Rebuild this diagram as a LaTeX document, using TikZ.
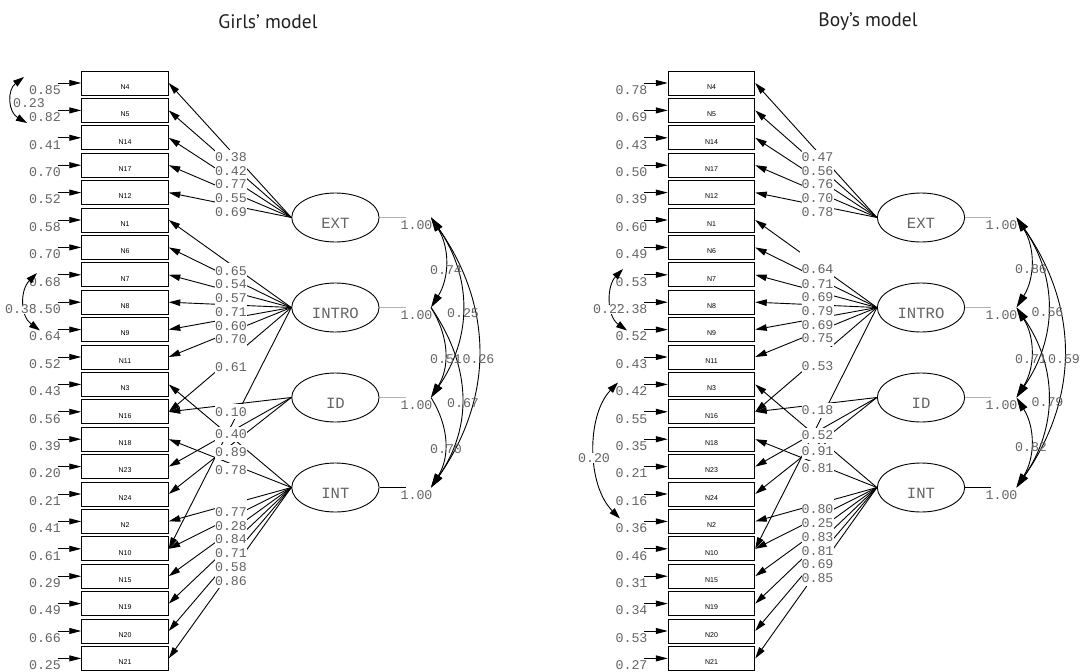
\documentclass[tikz,border=0pt]{standalone}
\usepackage{fontspec}
\newfontfamily\numfont{Liberation Mono}
\newfontfamily\boxfont{Liberation Sans}
\newfontfamily\headfont{PT Sans}
\usetikzlibrary{shapes.geometric,arrows.meta}
\definecolor{lisgray}{RGB}{100,100,100}
\definecolor{headink}{RGB}{35,31,32}
\begin{document}
\begin{tikzpicture}[x=1pt,y=-1pt,
    obs/.style={draw, line width=0.9pt, minimum width=86.6pt, minimum height=24pt, inner sep=0pt,
      font=\boxfont\fontsize{7}{7}\selectfont, text height=12.4pt, text depth=0pt},
    latent/.style={draw, ellipse, line width=0.9pt, minimum width=87.3pt, minimum height=49pt, inner sep=0pt,
      font=\numfont\fontsize{15.6}{15.6}\selectfont, text=lisgray, text height=22pt, text depth=0pt},
    num/.style={inner sep=0pt, font=\numfont\fontsize{13.3}{13.3}\selectfont, text=lisgray,
      text height=9.2pt, text depth=0pt},
    loadlab/.style={num, fill=white, minimum width=32pt, minimum height=15pt},
    covlab/.style={num, fill=white},
    load/.style={line width=0.9pt, -{Triangle[length=11.5pt,width=6.5pt]}},
    err/.style={line width=0.9pt, -{Triangle[length=12pt,width=6pt]}},
    errcov/.style={line width=0.9pt, {Triangle[length=11pt,width=7pt]}-{Triangle[length=11pt,width=7pt]}},
    cor/.style={line width=0.9pt, {Triangle[length=14pt,width=8pt]}-{Triangle[length=14pt,width=8pt]}},
    cortip/.style={line width=0.9pt, -{Triangle[length=14pt,width=8pt]}},
    var/.style={line width=0.9pt, gray!60},
    headline/.style={font=\headfont\fontsize{19.5}{19.5}\selectfont, text=headink}]
  \useasboundingbox (0,0) rectangle (1085,672);
  \node[headline] (gtitle) at (268,22) {Girls’ model};
  \node[headline] (btitle) at (868,22) {Boy’s model};

  % girls
  \begin{scope}
    \path
      (125,83) node[obs] (gN4){N4}
      (125,110.4) node[obs] (gN5){N5}
      (125,137.8) node[obs] (gN14){N14}
      (125,165.2) node[obs] (gN17){N17}
      (125,192.6) node[obs] (gN12){N12}
      (125,220) node[obs] (gN1){N1}
      (125,247.4) node[obs] (gN6){N6}
      (125,274.8) node[obs] (gN7){N7}
      (125,302.2) node[obs] (gN8){N8}
      (125,329.6) node[obs] (gN9){N9}
      (125,357) node[obs] (gN11){N11}
      (125,384.4) node[obs] (gN3){N3}
      (125,411.8) node[obs] (gN16){N16}
      (125,439.2) node[obs] (gN18){N18}
      (125,466.6) node[obs] (gN23){N23}
      (125,494) node[obs] (gN24){N24}
      (125,521.4) node[obs] (gN2){N2}
      (125,548.8) node[obs] (gN10){N10}
      (125,576.2) node[obs] (gN15){N15}
      (125,603.6) node[obs] (gN19){N19}
      (125,631) node[obs] (gN20){N20}
      (125,658.4) node[obs] (gN21){N21};
    \path
      (335.4,217.5) node[latent] (gEXT){EXT}
      (335.4,307.5) node[latent] (gINTRO){INTRO}
      (335.4,397.5) node[latent] (gID){ID}
      (335.4,487.5) node[latent] (gINT){INT};
    % error variances
    \begin{scope}[err]
      \draw ([xshift=-23.7pt]gN4.west) -- (gN4.west);
      \draw ([xshift=-23.7pt]gN5.west) -- (gN5.west);
      \draw ([xshift=-23.7pt]gN14.west) -- (gN14.west);
      \draw ([xshift=-23.7pt]gN17.west) -- (gN17.west);
      \draw ([xshift=-23.7pt]gN12.west) -- (gN12.west);
      \draw ([xshift=-23.7pt]gN1.west) -- (gN1.west);
      \draw ([xshift=-23.7pt]gN6.west) -- (gN6.west);
      \draw ([xshift=-23.7pt]gN7.west) -- (gN7.west);
      \draw ([xshift=-23.7pt]gN8.west) -- (gN8.west);
      \draw ([xshift=-23.7pt]gN9.west) -- (gN9.west);
      \draw ([xshift=-23.7pt]gN11.west) -- (gN11.west);
      \draw ([xshift=-23.7pt]gN3.west) -- (gN3.west);
      \draw ([xshift=-23.7pt]gN16.west) -- (gN16.west);
      \draw ([xshift=-23.7pt]gN18.west) -- (gN18.west);
      \draw ([xshift=-23.7pt]gN23.west) -- (gN23.west);
      \draw ([xshift=-23.7pt]gN24.west) -- (gN24.west);
      \draw ([xshift=-23.7pt]gN2.west) -- (gN2.west);
      \draw ([xshift=-23.7pt]gN10.west) -- (gN10.west);
      \draw ([xshift=-23.7pt]gN15.west) -- (gN15.west);
      \draw ([xshift=-23.7pt]gN19.west) -- (gN19.west);
      \draw ([xshift=-23.7pt]gN20.west) -- (gN20.west);
      \draw ([xshift=-23.7pt]gN21.west) -- (gN21.west);
    \end{scope}
    \path[every node/.style=num]
      (45,89.7) node (geN4){0.85}
      (45,117.1) node (geN5){0.82}
      (45,144.5) node (geN14){0.41}
      (45,171.9) node (geN17){0.70}
      (45,199.3) node (geN12){0.52}
      (45,226.7) node (geN1){0.58}
      (45,254.1) node (geN6){0.70}
      (45,281.5) node (geN7){0.68}
      (45,308.9) node (geN8){0.50}
      (45,336.3) node (geN9){0.64}
      (45,363.7) node (geN11){0.52}
      (45,391.1) node (geN3){0.43}
      (45,418.5) node (geN16){0.56}
      (45,445.9) node (geN18){0.39}
      (45,473.3) node (geN23){0.20}
      (45,500.7) node (geN24){0.21}
      (45,528.1) node (geN2){0.41}
      (45,555.5) node (geN10){0.61}
      (45,582.9) node (geN15){0.29}
      (45,610.3) node (geN19){0.49}
      (45,637.7) node (geN20){0.66}
      (45,665.1) node (geN21){0.25};
    % loadings
    \begin{scope}[load]
      \draw (gEXT.west) -- (gN4.east);
      \draw (gEXT.west) -- (gN5.east);
      \draw (gEXT.west) -- (gN14.east);
      \draw (gEXT.west) -- (gN17.east);
      \draw (gEXT.west) -- (gN12.east);
      \draw (gINTRO.west) -- (gN1.east);
      \draw (gINTRO.west) -- (gN6.east);
      \draw (gINTRO.west) -- (gN7.east);
      \draw (gINTRO.west) -- (gN8.east);
      \draw (gINTRO.west) -- (gN9.east);
      \draw (gINTRO.west) -- (gN11.east);
      \draw (gINTRO.west) -- (gN16.east);
      \draw (gINTRO.west) -- (gN10.east);
      \draw (gID.west) -- (gN16.east);
      \draw (gID.west) -- (gN23.east);
      \draw (gID.west) -- (gN24.east);
      \draw (gINT.west) -- (gN3.east);
      \draw (gINT.west) -- (gN18.east);
      \draw (gINT.west) -- (gN2.east);
      \draw (gINT.west) -- (gN10.east);
      \draw (gINT.west) -- (gN15.east);
      \draw (gINT.west) -- (gN19.east);
      \draw (gINT.west) -- (gN20.east);
      \draw (gINT.west) -- (gN21.east);
    \end{scope}
    \fill[white] (215,346.5) rectangle (247,359.5);
    \fill[white] (215,490) rectangle (247,504);
    \path[every node/.style=loadlab]
      (231,157) node (gw1){0.38}
      (231,170.7) node (gw2){0.42}
      (231,184.3) node (gw3){0.77}
      (231,198) node (gw4){0.55}
      (231,211.7) node (gw5){0.69}
      (231,270.7) node (gw6){0.65}
      (231,284.3) node (gw7){0.54}
      (231,298.3) node (gw8){0.57}
      (231,312.3) node (gw9){0.71}
      (231,326) node (gw10){0.60}
      (231,339.3) node (gw11){0.70}
      (231,366.7) node (gw12){0.61}
      (231,411.7) node (gw13){0.10}
      (231,434.3) node (gw14){0.40}
      (231,452) node (gw15){0.89}
      (231,470.3) node (gw16){0.78}
      (231,511.7) node (gw17){0.77}
      (231,525.7) node (gw18){0.28}
      (231,539.3) node (gw19){0.84}
      (231,552.7) node (gw20){0.71}
      (231,566.7) node (gw21){0.58}
      (231,580.7) node (gw22){0.86};
    % factor variances
    \draw[var] (gEXT.east) -- +(26,0);
    \draw[var] (gINTRO.east) -- +(26,0);
    \draw[var] (gID.east) -- +(26,0);
    \draw[line width=1pt] (gINT.east) -- +(26,0);
    \path[every node/.style=num]
      (416.5,224.5) node (gvEXT){1.00}
      (416.5,314.5) node (gvINTRO){1.00}
      (416.5,404.5) node (gvID){1.00}
      (416.5,494.5) node (gvINT){1.00};
    % factor correlations
    \coordinate (gcEXT) at (431,217.5);
    \coordinate (gcINTRO) at (431,307.5);
    \coordinate (gcID) at (431,397.5);
    \coordinate (gcINT) at (431,487.5);
    \draw[cor] (gcEXT) .. controls +(18.7,30) and +(18.7,-30) .. (gcINTRO);
    \draw[cor] (gcEXT) .. controls +(41.3,60) and +(41.3,-60) .. (gcID);
    \draw[cor] (gcEXT) .. controls +(62.7,90) and +(62.7,-90) .. (gcINT);
    \draw[cortip] (gcINTRO) .. controls +(18.7,30) and +(18.7,-30) .. (gcID);
    \draw[cortip] (gcINTRO) .. controls +(41.3,60) and +(41.3,-60) .. (gcINT);
    \draw[cortip] (gcID) .. controls +(18.7,30) and +(18.7,-30) .. (gcINT);
    \path[every node/.style=num]
      (446,270) node (gr1){0.74}
      (463,313.3) node (gr2){0.25}
      (478.5,359) node (gr3){0.26}
      (446,359) node (gr4){0.51}
      (463,403.3) node (gr5){0.67}
      (446,449.3) node (gr6){0.70};
    % error covariances
    \coordinate (gq1) at (24,77);
    \coordinate (gq2) at (27,123);
    \coordinate (gq3) at (37,273);
    \coordinate (gq4) at (40,330.5);
    \draw[errcov] (gq1) .. controls (7,90) and (8,112) .. (gq2);
    \draw[errcov] (gq3) .. controls (20,290) and (20,316) .. (gq4);
    \node[covlab] (gq12) at (29,103.3) {0.23};
    \node[covlab] (gq34) at (21,309.3) {0.38};
  \end{scope}

  % boys
  \begin{scope}[xshift=586.5pt]
    \path
      (125,83) node[obs] (bN4){N4}
      (125,110.4) node[obs] (bN5){N5}
      (125,137.8) node[obs] (bN14){N14}
      (125,165.2) node[obs] (bN17){N17}
      (125,192.6) node[obs] (bN12){N12}
      (125,220) node[obs] (bN1){N1}
      (125,247.4) node[obs] (bN6){N6}
      (125,274.8) node[obs] (bN7){N7}
      (125,302.2) node[obs] (bN8){N8}
      (125,329.6) node[obs] (bN9){N9}
      (125,357) node[obs] (bN11){N11}
      (125,384.4) node[obs] (bN3){N3}
      (125,411.8) node[obs] (bN16){N16}
      (125,439.2) node[obs] (bN18){N18}
      (125,466.6) node[obs] (bN23){N23}
      (125,494) node[obs] (bN24){N24}
      (125,521.4) node[obs] (bN2){N2}
      (125,548.8) node[obs] (bN10){N10}
      (125,576.2) node[obs] (bN15){N15}
      (125,603.6) node[obs] (bN19){N19}
      (125,631) node[obs] (bN20){N20}
      (125,658.4) node[obs] (bN21){N21};
    \path
      (334.5,217.5) node[latent] (bEXT){EXT}
      (334.5,307.5) node[latent] (bINTRO){INTRO}
      (334.5,397.5) node[latent] (bID){ID}
      (334.5,487.5) node[latent] (bINT){INT};
    % error variances
    \begin{scope}[err]
      \draw ([xshift=-23.7pt]bN4.west) -- (bN4.west);
      \draw ([xshift=-23.7pt]bN5.west) -- (bN5.west);
      \draw ([xshift=-23.7pt]bN14.west) -- (bN14.west);
      \draw ([xshift=-23.7pt]bN17.west) -- (bN17.west);
      \draw ([xshift=-23.7pt]bN12.west) -- (bN12.west);
      \draw ([xshift=-23.7pt]bN1.west) -- (bN1.west);
      \draw ([xshift=-23.7pt]bN6.west) -- (bN6.west);
      \draw ([xshift=-23.7pt]bN7.west) -- (bN7.west);
      \draw ([xshift=-23.7pt]bN8.west) -- (bN8.west);
      \draw ([xshift=-23.7pt]bN9.west) -- (bN9.west);
      \draw ([xshift=-23.7pt]bN11.west) -- (bN11.west);
      \draw ([xshift=-23.7pt]bN3.west) -- (bN3.west);
      \draw ([xshift=-23.7pt]bN16.west) -- (bN16.west);
      \draw ([xshift=-23.7pt]bN18.west) -- (bN18.west);
      \draw ([xshift=-23.7pt]bN23.west) -- (bN23.west);
      \draw ([xshift=-23.7pt]bN24.west) -- (bN24.west);
      \draw ([xshift=-23.7pt]bN2.west) -- (bN2.west);
      \draw ([xshift=-23.7pt]bN10.west) -- (bN10.west);
      \draw ([xshift=-23.7pt]bN15.west) -- (bN15.west);
      \draw ([xshift=-23.7pt]bN19.west) -- (bN19.west);
      \draw ([xshift=-23.7pt]bN20.west) -- (bN20.west);
      \draw ([xshift=-23.7pt]bN21.west) -- (bN21.west);
    \end{scope}
    \path[every node/.style=num]
      (45,89.7) node (beN4){0.78}
      (45,117.1) node (beN5){0.69}
      (45,144.5) node (beN14){0.43}
      (45,171.9) node (beN17){0.50}
      (45,199.3) node (beN12){0.39}
      (45,226.7) node (beN1){0.60}
      (45,254.1) node (beN6){0.49}
      (45,281.5) node (beN7){0.53}
      (45,308.9) node (beN8){0.38}
      (45,336.3) node (beN9){0.52}
      (45,363.7) node (beN11){0.43}
      (45,391.1) node (beN3){0.42}
      (45,418.5) node (beN16){0.55}
      (45,445.9) node (beN18){0.35}
      (45,473.3) node (beN23){0.21}
      (45,500.7) node (beN24){0.16}
      (45,528.1) node (beN2){0.36}
      (45,555.5) node (beN10){0.46}
      (45,582.9) node (beN15){0.31}
      (45,610.3) node (beN19){0.34}
      (45,637.7) node (beN20){0.53}
      (45,665.1) node (beN21){0.27};
    % loadings
    \begin{scope}[load]
      \draw (bEXT.west) -- (bN4.east);
      \draw (bEXT.west) -- (bN5.east);
      \draw (bEXT.west) -- (bN14.east);
      \draw (bEXT.west) -- (bN17.east);
      \draw (bEXT.west) -- (bN12.east);
      \draw (bINTRO.west) -- (bN1.east);
      \draw (bINTRO.west) -- (bN6.east);
      \draw (bINTRO.west) -- (bN7.east);
      \draw (bINTRO.west) -- (bN8.east);
      \draw (bINTRO.west) -- (bN9.east);
      \draw (bINTRO.west) -- (bN11.east);
      \draw (bINTRO.west) -- (bN16.east);
      \draw (bINTRO.west) -- (bN10.east);
      \draw (bID.west) -- (bN16.east);
      \draw (bID.west) -- (bN23.east);
      \draw (bID.west) -- (bN24.east);
      \draw (bINT.west) -- (bN3.east);
      \draw (bINT.west) -- (bN18.east);
      \draw (bINT.west) -- (bN2.east);
      \draw (bINT.west) -- (bN10.east);
      \draw (bINT.west) -- (bN15.east);
      \draw (bINT.west) -- (bN19.east);
      \draw (bINT.west) -- (bN20.east);
      \draw (bINT.west) -- (bN21.east);
    \end{scope}
    \fill[white] (213,249) rectangle (247,262.5);
    \fill[white] (215,346.5) rectangle (247,359.5);
    \fill[white] (215,490) rectangle (247,503);
    \path[every node/.style=loadlab]
      (231,157) node (bw1){0.47}
      (231,170.7) node (bw2){0.56}
      (231,184.3) node (bw3){0.76}
      (231,198) node (bw4){0.70}
      (231,211.7) node (bw5){0.78}
      (231,269.3) node (bw6){0.64}
      (231,283.7) node (bw7){0.71}
      (231,297.3) node (bw8){0.69}
      (231,311) node (bw9){0.79}
      (231,325) node (bw10){0.69}
      (231,338.3) node (bw11){0.75}
      (231,365.7) node (bw12){0.53}
      (231,410) node (bw13){0.18}
      (231,435) node (bw14){0.52}
      (231,451) node (bw15){0.91}
      (231,468.3) node (bw16){0.81}
      (231,509.3) node (bw17){0.80}
      (231,523) node (bw18){0.25}
      (231,537) node (bw19){0.83}
      (231,550.7) node (bw20){0.81}
      (231,564.3) node (bw21){0.69}
      (231,578) node (bw22){0.85};
    % factor variances
    \draw[var] (bEXT.east) -- +(26,0);
    \draw[var] (bINTRO.east) -- +(26,0);
    \draw[var] (bID.east) -- +(26,0);
    \draw[line width=1pt] (bINT.east) -- +(26,0);
    \path[every node/.style=num]
      (415,224.5) node (bvEXT){1.00}
      (415,314.5) node (bvINTRO){1.00}
      (415,404.5) node (bvID){1.00}
      (415,494.5) node (bvINT){1.00};
    % factor correlations
    \coordinate (bcEXT) at (430,217.5);
    \coordinate (bcINTRO) at (430,307.5);
    \coordinate (bcID) at (430,397.5);
    \coordinate (bcINT) at (430,487.5);
    \draw[cor] (bcEXT) .. controls +(18.7,30) and +(18.7,-30) .. (bcINTRO);
    \draw[cor] (bcEXT) .. controls +(41.3,60) and +(41.3,-60) .. (bcID);
    \draw[cor] (bcEXT) .. controls +(62.7,90) and +(62.7,-90) .. (bcINT);
    \draw[cor] (bcINTRO) .. controls +(18.7,30) and +(18.7,-30) .. (bcID);
    \draw[cor] (bcINTRO) .. controls +(41.3,60) and +(41.3,-60) .. (bcINT);
    \draw[cor] (bcID) .. controls +(18.7,30) and +(18.7,-30) .. (bcINT);
    \path[every node/.style=num]
      (444.5,269) node (br1){0.86}
      (461,311.7) node (br2){0.56}
      (477.5,359) node (br3){0.59}
      (444.5,359) node (br4){0.71}
      (461,401.7) node (br5){0.79}
      (444.5,447.3) node (br6){0.82};
    % error covariances
    \coordinate (bq1) at (36.5,269);
    \coordinate (bq2) at (40.5,330.5);
    \coordinate (bq3) at (31.5,382.5);
    \coordinate (bq4) at (33.5,518.5);
    \draw[errcov] (bq1) .. controls (20,286) and (20,316) .. (bq2);
    \draw[errcov] (bq3) .. controls (0,415) and (0,485) .. (bq4);
    \node[covlab] (bq12) at (22.5,309.3) {0.22};
    \node[covlab] (bq34) at (7.5,458) {0.20};
  \end{scope}
\end{tikzpicture}
\end{document}
